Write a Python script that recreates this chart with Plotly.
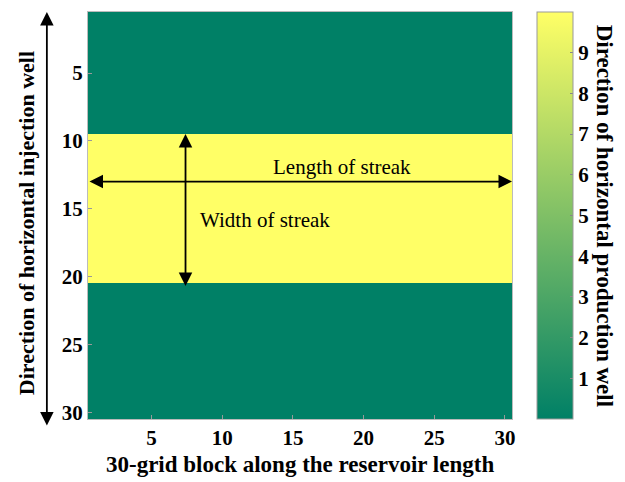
import plotly.graph_objects as go

# Grid: 30 x 30 blocks, one permeability value per row (streak in rows 10-20)
cols = list(range(1, 31))
rows = list(range(1, 31))
row_values = [0, 0, 0, 0, 0, 0, 0, 0, 0,
              10, 10, 10, 10, 10, 10, 10, 10, 10, 10, 10,
              0, 0, 0, 0, 0, 0, 0, 0, 0, 0]
z = [[v] * len(cols) for v in row_values]

tick_vals = [5, 10, 15, 20, 25, 30]
cbar_ticks = [1, 2, 3, 4, 5, 6, 7, 8, 9]

FONT = "Liberation Serif"
summer = [[0.0, "rgb(0,128,102)"], [1.0, "rgb(255,255,102)"]]

fig = go.Figure(go.Heatmap(
    x=cols, y=rows, z=z, zmin=0, zmax=10,
    colorscale=summer,
    colorbar=dict(
        x=1.059, xanchor="left", xpad=0, y=0.5, yanchor="middle", len=1.0,
        ypad=0, thickness=36, outlinewidth=1, outlinecolor="#999999",
        tickvals=cbar_ticks, ticks="inside", ticklen=3, tickcolor="#888888",
        tickfont=dict(family=FONT, size=21, color="black", weight="bold"),
    ),
    showscale=True,
))

axis_common = dict(
    ticks="inside", ticklen=4, tickcolor="#999999", mirror=True,
    showline=True, linecolor="#bbbbbb", linewidth=1,
    showgrid=False, zeroline=False,
    tickfont=dict(family=FONT, size=21, color="black", weight="bold"),
)

fig.update_xaxes(range=[0.5, 30.5], tickvals=tick_vals, **axis_common)
fig.update_yaxes(range=[30.5, 0.5], tickvals=tick_vals, **axis_common)

arrow_style = dict(showarrow=True, arrowhead=2, arrowside="end+start",
                   arrowsize=1.5, arrowwidth=1.8, arrowcolor="black", text="")

annotations = [
    # horizontal double arrow: length of streak
    dict(x=30.5, y=13, ax=0.5, ay=13, xref="x", yref="y", axref="x", ayref="y",
         **arrow_style),
    # vertical double arrow: width of streak
    dict(x=7.4, y=9.5, ax=7.4, ay=20.8, xref="x", yref="y", axref="x", ayref="y",
         **arrow_style),
    dict(x=18.5, y=11.9, xref="x", yref="y", text="Length of streak",
         showarrow=False, font=dict(family=FONT, size=21, color="black")),
    dict(x=13.0, y=15.8, xref="x", yref="y", text="Width of streak",
         showarrow=False, font=dict(family=FONT, size=21, color="black")),
    # axis titles
    dict(x=0.5, y=-0.113, xref="paper", yref="paper", yanchor="middle",
         text="30-grid block along the reservoir length", showarrow=False,
         font=dict(family=FONT, size=23, color="black", weight="bold")),
    dict(x=-0.145, y=0.48, xref="paper", yref="paper", xanchor="center",
         yanchor="middle",
         text="Direction of horizontal injection well", showarrow=False,
         textangle=-90,
         font=dict(family=FONT, size=22, color="black", weight="bold")),
    dict(x=1.219, y=0.5, xref="paper", yref="paper", xanchor="center",
         yanchor="middle",
         text="Direction of horizontal production well", showarrow=False,
         textangle=90,
         font=dict(family=FONT, size=23, color="black", weight="bold")),
    # long double arrow beside the y-axis title
    dict(x=-0.097, y=1.0, xref="paper", yref="paper", ax=0, ay=415,
         axref="pixel", ayref="pixel", **arrow_style),
]

fig.update_layout(
    width=625, height=482,
    margin=dict(l=88, r=113, t=12, b=63),
    paper_bgcolor="white", plot_bgcolor="white",
    annotations=annotations,
    font=dict(family=FONT),
)

fig.write_html("out.html")
